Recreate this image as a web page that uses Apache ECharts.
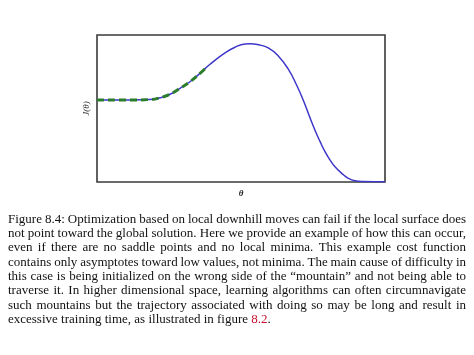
<!DOCTYPE html>
<html><head><meta charset="utf-8">
<script src="https://cdn.jsdelivr.net/npm/echarts@6/dist/echarts.min.js"></script>
<style>html,body{margin:0;padding:0;background:#fff}#c{width:474px;height:355px}</style>
</head><body><div id="c"></div>
<script>
// Cost curve J(theta)
const thetaValues = [0, 1.146, 1.84, 2.188, 2.535, 2.882, 3.229, 3.576, 3.924, 4.444, 4.792, 5.139, 5.313, 5.601, 5.948, 6.295, 6.642, 6.934, 7.163, 7.396, 7.569, 7.743, 7.917, 8.09, 8.264, 8.497, 8.726, 8.958, 9.236, 10];
const costValues  = [0.558, 0.558, 0.561, 0.573, 0.597, 0.637, 0.682, 0.739, 0.801, 0.878, 0.917, 0.939, 0.941, 0.934, 0.912, 0.857, 0.768, 0.658, 0.556, 0.437, 0.352, 0.276, 0.206, 0.150, 0.104, 0.059, 0.025, 0.008, 0.003, 0.001];
// Optimizer trajectory (dashed green)
const pathTheta = [0, 1.146, 1.84, 2.188, 2.535, 2.882, 3.229, 3.576, 3.82];
const pathCost  = [0.558, 0.558, 0.561, 0.573, 0.597, 0.637, 0.682, 0.739, 0.783];
const xAxisName = 'θ';
const yAxisName = 'J(θ)';
const captionLines = [
  'Figure 8.4: Optimization based on local downhill moves can fail if the local surface does',
  'not point toward the global solution. Here we provide an example of how this can occur,',
  'even if there are no saddle points and no local minima. This example cost function',
  'contains only asymptotes toward low values, not minima. The main cause of difficulty in',
  'this case is being initialized on the wrong side of the \u201cmountain\u201d and not being able to',
  'traverse it. In higher dimensional space, learning algorithms can often circumnavigate',
  'such mountains but the trajectory associated with doing so may be long and result in',
  'excessive training time, as illustrated in figure 8.2.'
];
const captionLinkText = '8.2';

const chart = echarts.init(document.getElementById('c'), null, {renderer: 'canvas'});

// caption layout (justified)
const FONT_FAMILY = '"Liberation Serif", "DejaVu Serif", serif';
const cv = document.createElement('canvas').getContext('2d');
const left = 8, right = 466, W = right - left;
let fs = 13.5;
function measure(t, s) { cv.font = s + 'px ' + FONT_FAMILY; return cv.measureText(t).width; }
while (fs > 9) {
  let ok = true;
  for (let i = 0; i < captionLines.length - 1; i++) {
    const words = captionLines[i].split(' ');
    const sum = words.reduce((a, w) => a + measure(w, fs), 0);
    if (sum + (words.length - 1) * measure(' ', fs) * 0.8 > W) { ok = false; break; }
  }
  if (ok) break;
  fs -= 0.25;
}
const graphics = [];
const y0 = 221, lh = 14.3;
captionLines.forEach((line, i) => {
  const words = line.split(' ');
  const widths = words.map(w => measure(w, fs));
  const sum = widths.reduce((a, b) => a + b, 0);
  const last = i === captionLines.length - 1;
  const gap = last ? measure(' ', fs) : (W - sum) / (words.length - 1);
  let x = left;
  words.forEach((w, j) => {
    if (last && w.startsWith(captionLinkText)) {
      graphics.push({type: 'text', left: x, top: y0 + i * lh - fs * 0.62,
        style: {text: captionLinkText, font: fs + 'px ' + FONT_FAMILY, fill: '#c8102e'}});
      const rest = w.slice(captionLinkText.length);
      graphics.push({type: 'text', left: x + measure(captionLinkText, fs), top: y0 + i * lh - fs * 0.62,
        style: {text: rest, font: fs + 'px ' + FONT_FAMILY, fill: '#111'}});
    } else {
      graphics.push({type: 'text', left: x, top: y0 + i * lh - fs * 0.62,
        style: {text: w, font: fs + 'px ' + FONT_FAMILY, fill: '#111'}});
    }
    x += widths[j] + gap;
  });
});

chart.setOption({
  animation: false,
  backgroundColor: '#fff',
  grid: {left: 97, top: 35, width: 288, height: 147, show: true, borderColor: '#3a3a3a', borderWidth: 1.6, backgroundColor: '#fff'},
  xAxis: {type: 'value', min: 0, max: 10, axisLine: {show: false}, axisTick: {show: false}, axisLabel: {show: false}, splitLine: {show: false},
    name: xAxisName, nameLocation: 'middle', nameGap: 7,
    nameTextStyle: {fontFamily: FONT_FAMILY, fontStyle: 'italic', fontWeight: 'bold', fontSize: 9, color: '#222'}},
  yAxis: {type: 'value', min: 0, max: 1, axisLine: {show: false}, axisTick: {show: false}, axisLabel: {show: false}, splitLine: {show: false},
    name: yAxisName, nameLocation: 'middle', nameGap: 6, nameRotate: 90,
    nameTextStyle: {fontFamily: FONT_FAMILY, fontStyle: 'italic', fontSize: 9, color: '#222'}},
  series: [
    {type: 'line', data: thetaValues.map((t, i) => [t, costValues[i]]), smooth: 0.5, showSymbol: false,
      lineStyle: {color: '#3f37c9', width: 1.5}, z: 2},
    {type: 'line', data: pathTheta.map((t, i) => [t, pathCost[i]]), smooth: 0.5, showSymbol: false,
      lineStyle: {color: '#2a7d2a', width: 3, type: [7, 4]}, z: 3}
  ],
  graphic: graphics
});
</script></body></html>
